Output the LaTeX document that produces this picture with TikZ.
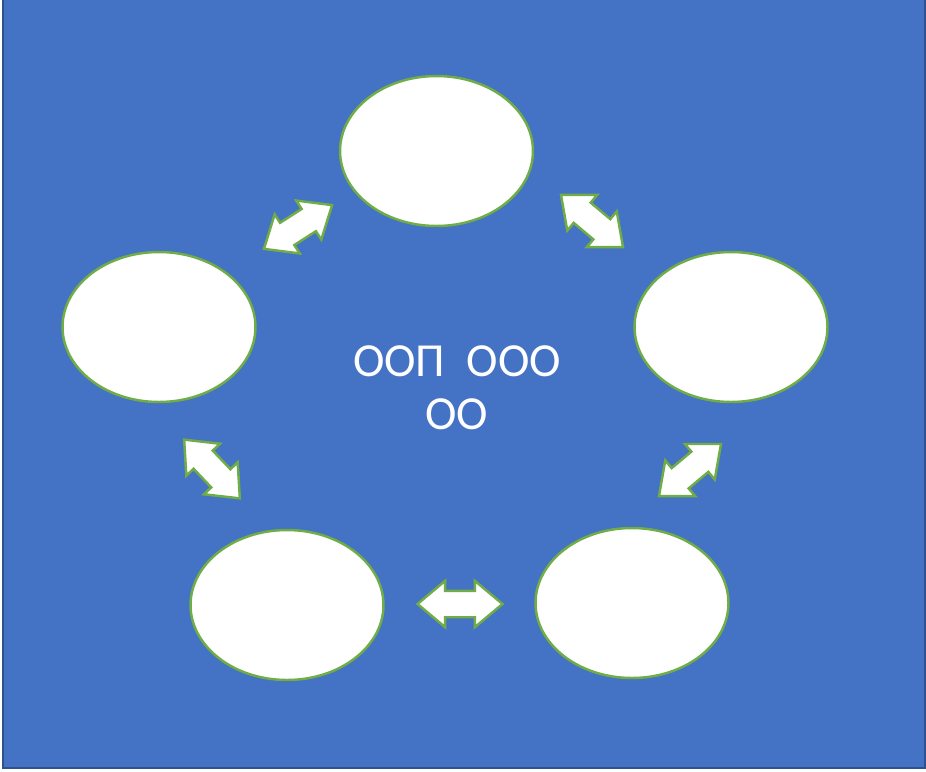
\documentclass[tikz,border=0pt]{standalone}
\usepackage{fontspec}
\setmainfont{Carlito}
\usetikzlibrary{shapes.geometric,shapes.arrows}

\definecolor{slideblue}{HTML}{4472C4}
\definecolor{slideedge}{HTML}{2F528F}
\definecolor{leafgreen}{HTML}{70AD47}

\tikzset{
  bubble/.style={draw=leafgreen, line width=1.4pt, fill=white, ellipse,
    inner sep=0pt, minimum width=3.86cm, minimum height=3cm},
  link/.style={draw=leafgreen, line width=1.4pt, fill=white, double arrow,
    inner sep=0.24cm, double arrow head extend=0.2cm,
    double arrow tip angle=80, minimum height=1.62cm}
}

\begin{document}
\begin{tikzpicture}[x=0.02cm, y=-0.02cm]
        \useasboundingbox (0,0) rectangle (926,771);
        \fill[white] (0,0) rectangle (926,771);
        \draw[slideedge, fill=slideblue, line width=1.5pt] (3,-5) rectangle (925,768);

        % the five bubbles
        \node[bubble] (top) at (436.5,151) {};
        \node[bubble] (left) at (159,327) {};
        \node[bubble] (right) at (731,327) {};
        \node[bubble] (botleft) at (287,605) {};
        \node[bubble] (botright) at (632,603) {};

        % arrows between them
        \node[link, rotate=32.7] (a1) at (298,227) {};
        \node[link, rotate=-40] (a2) at (592,221) {};
        \node[link, rotate=-46.5] (a3) at (212,469) {};
        \node[link, rotate=40] (a4) at (690,470) {};
        \node[link, minimum height=1.7cm] (a5) at (460,604) {};

        \node[white, font=\fontsize{27}{30}\selectfont, align=center] (title) at (457,388) {ООП\ \ ООО\\ОО};
\end{tikzpicture}
\end{document}
